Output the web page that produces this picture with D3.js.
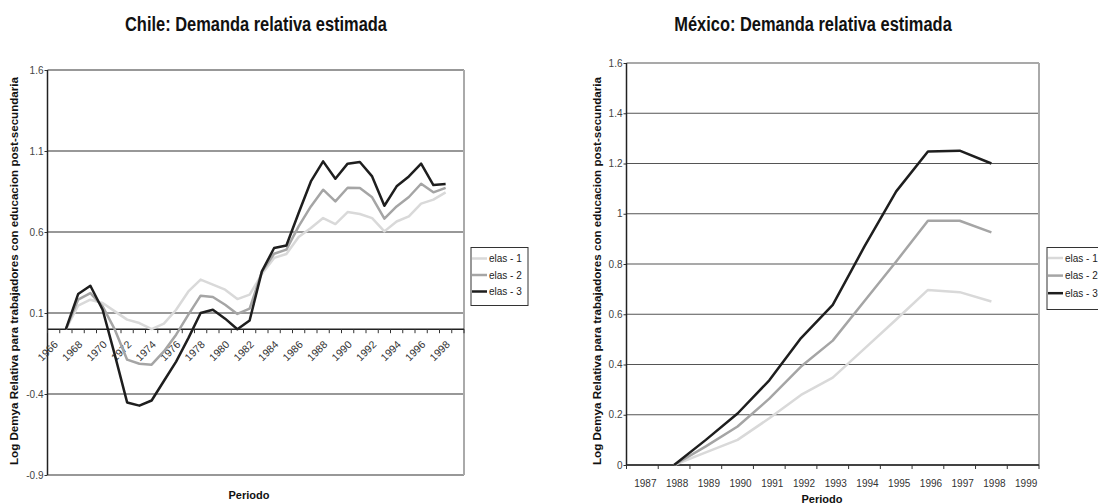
<!DOCTYPE html>
<html>
<head>
<meta charset="utf-8">
<script src="https://cdn.jsdelivr.net/npm/d3@7"></script>
<style>
  body { margin: 0; background: #fff; }
  svg { display: block; font-family: "Liberation Sans", Arial, sans-serif; }
</style>
</head>
<body>
<div id="chart"></div>
<script>
// Chile: categories on the axis, years with data, and the three series
const chileCategories = [1966, 1967, 1968, 1969, 1970, 1971, 1972, 1973, 1974, 1975, 1976, 1977,
    1978, 1979, 1980, 1981, 1982, 1983, 1984, 1985, 1986, 1987, 1988, 1989, 1990, 1991, 1992,
    1993, 1994, 1995, 1996, 1997, 1998, 1999];
const chileYears = [1967, 1968, 1969, 1970, 1971, 1972, 1973, 1974, 1975, 1976, 1977, 1978,
    1979, 1980, 1981, 1982, 1983, 1984, 1985, 1986, 1987, 1988, 1989, 1990, 1991, 1992, 1993,
    1994, 1995, 1996, 1997, 1998];
const chileLabels = [1966, 1968, 1970, 1972, 1974, 1976, 1978, 1980, 1982, 1984, 1986, 1988,
    1990, 1992, 1994, 1996, 1998];
const chileYTicks = [-0.9, -0.4, 0.1, 0.6, 1.1, 1.6];
const chileElas1 = [0, 0.145, 0.182, 0.162, 0.11, 0.059, 0.038, 0.001, 0.034, 0.12, 0.233, 0.306,
    0.275, 0.244, 0.186, 0.213, 0.34, 0.44, 0.464, 0.569, 0.625, 0.686, 0.649, 0.723, 0.711, 0.686,
    0.604, 0.665, 0.696, 0.775, 0.8, 0.845];
const chileElas2 = [0, 0.182, 0.223, 0.141, -0.003, -0.188, -0.213, -0.219, -0.137, -0.034, 0.09,
    0.207, 0.199, 0.151, 0.094, 0.127, 0.355, 0.466, 0.491, 0.635, 0.758, 0.861, 0.789, 0.873,
    0.872, 0.814, 0.682, 0.758, 0.816, 0.898, 0.845, 0.872];
const chileElas3 = [0, 0.217, 0.268, 0.12, -0.16, -0.452, -0.472, -0.44, -0.32, -0.2, -0.055, 0.1,
    0.12, 0.065, 0.0, 0.054, 0.357, 0.501, 0.517, 0.717, 0.912, 1.036, 0.929, 1.022, 1.032, 0.943,
    0.762, 0.882, 0.943, 1.022, 0.89, 0.896];

// Mexico
const mexCategories = [1987, 1988, 1989, 1990, 1991, 1992, 1993, 1994, 1995, 1996, 1997, 1998, 1999];
const mexYears = [1988, 1989, 1990, 1991, 1992, 1993, 1994, 1995, 1996, 1997, 1998];
const mexYTicks = [0, 0.2, 0.4, 0.6, 0.8, 1, 1.2, 1.4, 1.6];
const mexElas1 = [0, 0.05, 0.1, 0.186, 0.279, 0.348, 0.463, 0.579, 0.697, 0.688, 0.651];
const mexElas2 = [0, 0.074, 0.153, 0.264, 0.392, 0.495, 0.653, 0.81, 0.972, 0.972, 0.926];
const mexElas3 = [0, 0.1, 0.205, 0.337, 0.505, 0.637, 0.87, 1.089, 1.248, 1.251, 1.2];

const seriesNames = ["elas - 1", "elas - 2", "elas - 3"];
const seriesColors = ["#d9d9d9", "#a5a5a5", "#1e1e1e"];

const width = 1098, height = 504;
const yTitle = "Log Demya Relativa para trabajadores con educacion post-secundaria";

const svg = d3.select("#chart")
    .append("svg")
    .attr("width", width)
    .attr("height", height);

function panel(opt) {
    const g = svg.append("g");
    const x = d3.scaleBand()
        .domain(opt.categories)
        .range([opt.left, opt.right])
        .padding(0);
    const y = d3.scaleLinear()
        .domain(opt.yDomain)
        .range([opt.bottom, opt.top]);

    // grid lines
    g.append("g")
        .selectAll("line")
        .data(opt.yTicks)
        .join("line")
        .attr("x1", opt.left).attr("x2", opt.right)
        .attr("y1", d => y(d)).attr("y2", d => y(d))
        .attr("stroke", opt.gridColor)
        .attr("stroke-width", 1.2);

    // right border
    g.append("line")
        .attr("x1", opt.right).attr("x2", opt.right)
        .attr("y1", y(opt.yDomain[1])).attr("y2", y(opt.yDomain[0]))
        .attr("stroke", "#aaaaaa")
        .attr("stroke-width", 2);

    // y axis
    g.append("g")
        .attr("transform", `translate(${opt.left},0)`)
        .call(d3.axisLeft(y).tickValues(opt.yTicks).tickSize(3).tickPadding(1)
            .tickFormat(d => String(d)))
        .call(a => a.select(".domain").remove())
        .call(a => a.selectAll("line").attr("stroke", "#333"))
        .call(a => a.selectAll("text")
            .attr("font-size", 10)
            .attr("fill", "#444")
            .attr("font-family", "'Liberation Sans', Arial, sans-serif"));

    g.append("line")
        .attr("x1", opt.left).attr("x2", opt.left)
        .attr("y1", y(opt.yDomain[1])).attr("y2", y(opt.yDomain[0]))
        .attr("stroke", "#222")
        .attr("stroke-width", 1.5);

    // x axis line at 0 and boundary ticks
    const y0 = y(0);
    g.append("line")
        .attr("x1", opt.left).attr("x2", opt.right)
        .attr("y1", y0).attr("y2", y0)
        .attr("stroke", "#222")
        .attr("stroke-width", 1.5);

    const bounds = opt.categories.map(d => x(d)).concat([opt.right]);
    g.append("g")
        .selectAll("line")
        .data(bounds)
        .join("line")
        .attr("x1", d => d).attr("x2", d => d)
        .attr("y1", y0).attr("y2", y0 + 4)
        .attr("stroke", "#333");

    // category labels
    const xAxis = g.append("g")
        .attr("transform", `translate(0,${y0})`)
        .call(d3.axisBottom(x).tickValues(opt.labels).tickSize(0).tickFormat(d => String(d)))
        .call(a => a.select(".domain").remove());
    xAxis.selectAll("text")
        .attr("font-size", opt.rotate ? 10.5 : 10)
        .attr("fill", "#333")
        .attr("font-family", "'Liberation Sans', Arial, sans-serif");
    if (opt.rotate) {
        xAxis.selectAll("text")
            .attr("text-anchor", "end")
            .attr("dy", null)
            .attr("y", 0)
            .attr("transform", "translate(5,16) rotate(-45)");
    } else {
        xAxis.selectAll("text")
            .attr("dy", null)
            .attr("y", 22)
            .attr("x", 3);
    }

    // series lines
    const line = d3.line()
        .x((d, i) => x(opt.years[i]) + x.bandwidth() / 2)
        .y(d => y(d));
    opt.series.forEach((s, k) => {
        g.append("path")
            .attr("d", line(s))
            .attr("fill", "none")
            .attr("stroke", seriesColors[k])
            .attr("stroke-width", 2.5)
            .attr("stroke-linejoin", "round");
    });

    // legend
    const lg = g.append("g");
    lg.append("rect")
        .attr("x", opt.legend.x).attr("y", opt.legend.y)
        .attr("width", opt.legend.w).attr("height", opt.legend.h)
        .attr("fill", "white")
        .attr("stroke", "#333")
        .attr("stroke-width", 1);
    seriesNames.forEach((name, k) => {
        const ly = opt.legend.y + opt.legend.first + k * opt.legend.step;
        lg.append("line")
            .attr("x1", opt.legend.x + 1).attr("x2", opt.legend.x + 16)
            .attr("y1", ly).attr("y2", ly)
            .attr("stroke", seriesColors[k])
            .attr("stroke-width", 2.5);
        lg.append("text")
            .attr("x", opt.legend.x + 18)
            .attr("y", ly + 3.5)
            .attr("font-size", 10)
            .attr("fill", "#222")
            .text(name);
    });

    // titles
    g.append("text")
        .attr("class", "title")
        .attr("x", opt.titleX)
        .attr("y", 31)
        .attr("text-anchor", "middle")
        .attr("font-size", 20)
        .attr("font-weight", "bold")
        .attr("font-family", "'Liberation Sans Narrow', 'Arial Narrow', 'Liberation Sans', sans-serif")
        .attr("fill", "#111")
        .text(opt.title);

    g.append("text")
        .attr("transform", `translate(${opt.yTitleX},271) rotate(-90)`)
        .attr("text-anchor", "middle")
        .attr("font-size", 10)
        .attr("font-weight", "bold")
        .attr("fill", "#111")
        .attr("textLength", 388)
        .attr("lengthAdjust", "spacingAndGlyphs")
        .text(yTitle);

    g.append("text")
        .attr("x", opt.xTitleX)
        .attr("y", opt.xTitleY)
        .attr("text-anchor", "middle")
        .attr("font-size", 11)
        .attr("font-weight", "bold")
        .attr("fill", "#111")
        .text("Periodo");
}

panel({
    categories: chileCategories, years: chileYears, labels: chileLabels,
    series: [chileElas1, chileElas2, chileElas3],
    yDomain: [-0.9, 1.6], yTicks: chileYTicks,
    left: 47.5, right: 464, top: 70, bottom: 475,
    gridColor: "#333", rotate: true,
    legend: {x: 471, y: 247.5, w: 57, h: 58, first: 11, step: 16.5},
    title: "Chile: Demanda relativa estimada", titleX: 256,
    yTitleX: 17.5, xTitleX: 249, xTitleY: 499
});

panel({
    categories: mexCategories, years: mexYears, labels: mexCategories,
    series: [mexElas1, mexElas2, mexElas3],
    yDomain: [0, 1.6], yTicks: mexYTicks,
    left: 626.5, right: 1039, top: 63, bottom: 465,
    gridColor: "#555", rotate: false,
    legend: {x: 1047, y: 247.5, w: 60, h: 62, first: 10.5, step: 17.6},
    title: "México: Demanda relativa estimada", titleX: 813,
    yTitleX: 601, xTitleX: 822, xTitleY: 503
});

// squeeze the titles to the condensed width seen in the original
const titles = svg.selectAll("text.title");
const chileLen = titles.nodes()[0].getComputedTextLength();
const ratio = 262 / chileLen;
titles.each(function () {
    const len = this.getComputedTextLength();
    d3.select(this)
        .attr("textLength", len * ratio)
        .attr("lengthAdjust", "spacingAndGlyphs");
});
</script>
</body>
</html>
